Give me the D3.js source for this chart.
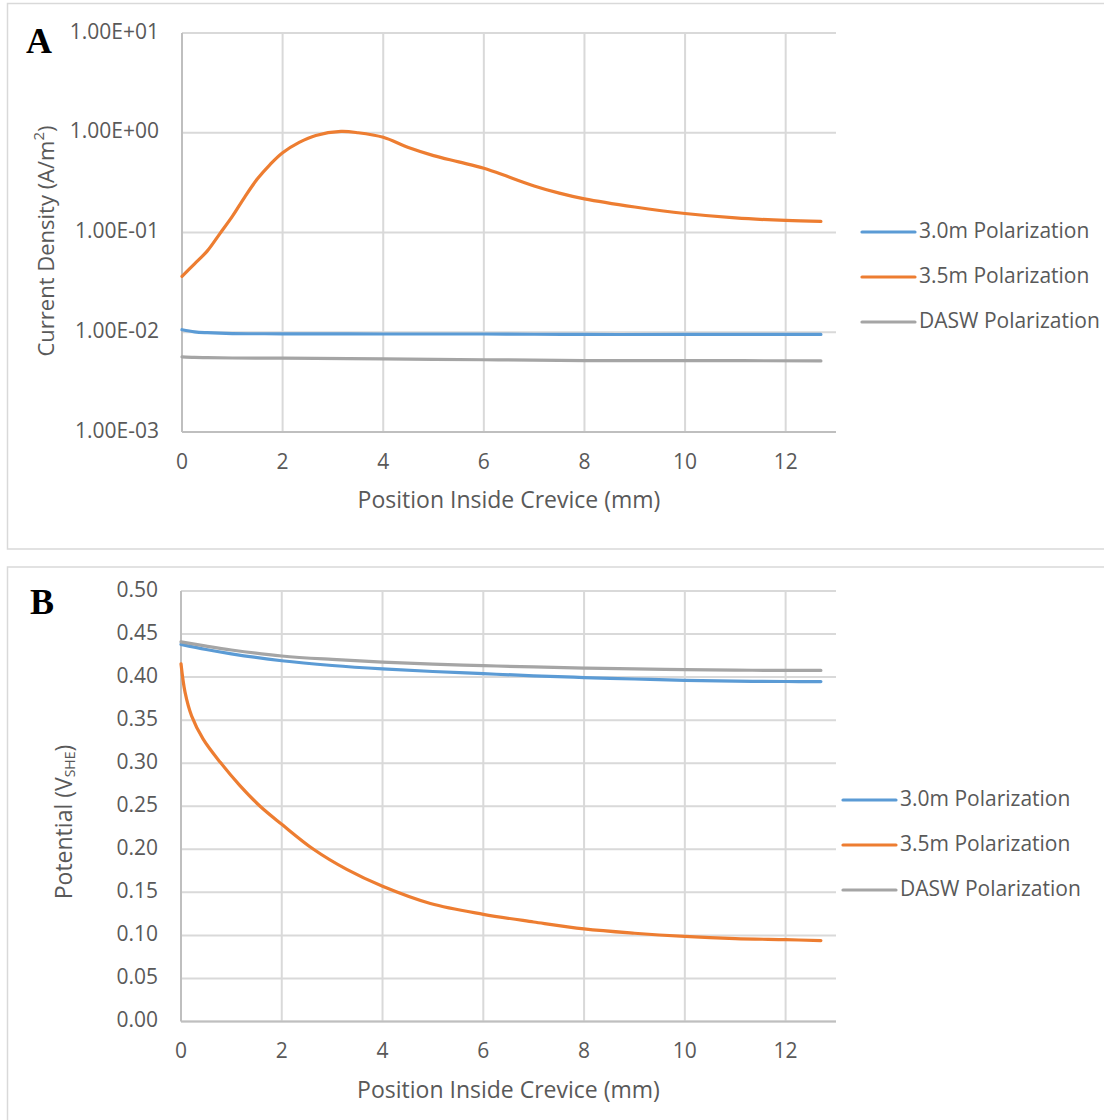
<!DOCTYPE html>
<html>
<head>
<meta charset="utf-8">
<script src="https://cdn.jsdelivr.net/npm/d3@7"></script>
<style>
  body { margin: 0; background: #fff; }
  text { font-family: "Open Sans", sans-serif; fill: #595959; }
</style>
</head>
<body>
<script>
// panel A : current density (log scale)
var xsA = [0, 0.25, 0.5, 0.75, 1, 1.25, 1.5, 1.75, 2, 2.33, 2.66, 3.16, 3.5, 4, 4.5, 5, 5.5, 6, 6.5, 7, 7.5, 8, 9, 10, 11, 12, 12.7];
var orangeA = [0.0363, 0.0486, 0.065, 0.097, 0.145, 0.228, 0.345, 0.48, 0.63, 0.80, 0.94, 1.03, 1.0, 0.90, 0.71, 0.59, 0.51, 0.44, 0.36, 0.293, 0.248, 0.217, 0.18, 0.155, 0.14, 0.132, 0.129];
var xsFlatA = [0, 0.25, 0.5, 1, 2, 4, 6, 8, 10, 12.7];
var blueA = [0.0106, 0.0101, 0.0099, 0.0097, 0.00965, 0.0096, 0.0096, 0.0095, 0.0095, 0.0095];
var grayA = [0.00567, 0.0056, 0.00557, 0.00552, 0.0055, 0.0054, 0.0053, 0.0052, 0.0052, 0.00516];
var yTicksA = [1e-3, 1e-2, 1e-1, 1e0, 1e1];

// panel B : potential
var xsB = [0, 0.08, 0.21, 0.44, 0.78, 1.17, 1.57, 2, 2.63, 3.29, 4, 4.95, 6, 7, 8, 9, 10, 11, 12, 12.7];
var orangeB = [0.4155, 0.3825, 0.355, 0.328, 0.301, 0.274, 0.250, 0.229, 0.200, 0.1766, 0.157, 0.137, 0.1245, 0.1156, 0.1075, 0.1025, 0.0988, 0.0963, 0.095, 0.094];
var xsFlatB = [0, 0.5, 1, 2, 3, 4, 5, 6, 7, 8, 9, 10, 11, 12, 12.7];
var blueB = [0.438, 0.432, 0.427, 0.419, 0.4135, 0.4095, 0.4065, 0.404, 0.4015, 0.3995, 0.3978, 0.3963, 0.3953, 0.3949, 0.3948];
var grayB = [0.441, 0.436, 0.4315, 0.4245, 0.4205, 0.4175, 0.415, 0.4133, 0.4118, 0.4105, 0.4095, 0.4087, 0.4081, 0.4078, 0.4077];
var yTicksB = [0, 0.05, 0.1, 0.15, 0.2, 0.25, 0.3, 0.35, 0.4, 0.45, 0.5];

var xTicks = [0, 2, 4, 6, 8, 10, 12];
var seriesNames = ["3.0m Polarization", "3.5m Polarization", "DASW Polarization"];
var colors = ["#5b9bd5", "#ed7d31", "#a5a5a5"];

var svg = d3.select("body").append("svg").attr("width", 1104).attr("height", 1120);

// outer frames
svg.append("rect").attr("x", 7.5).attr("y", 3.5).attr("width", 1110).attr("height", 545.5)
    .attr("fill", "none").attr("stroke", "#d9d9d9").attr("stroke-width", 1.5);
svg.append("rect").attr("x", 7.5).attr("y", 567).attr("width", 1110).attr("height", 600)
    .attr("fill", "none").attr("stroke", "#d9d9d9").attr("stroke-width", 1.5);

function sci(d) {
  var e = Math.round(Math.log10(d));
  var s = e < 0 ? "-" : "+";
  var a = Math.abs(e);
  return "1.00E" + s + (a < 10 ? "0" + a : a);
}

function panel(opt) {
  var x = d3.scaleLinear().domain([0, 13]).range([opt.left, opt.right]);
  var y = opt.y;
  var g = svg.append("g");

  // gridlines
  g.selectAll("line.hgrid").data(opt.yTicks).enter().append("line")
      .attr("x1", opt.left).attr("x2", opt.right)
      .attr("y1", function(d){ return y(d); }).attr("y2", function(d){ return y(d); })
      .attr("stroke", "#d9d9d9").attr("stroke-width", 2);
  g.selectAll("line.vgrid").data(xTicks.slice(1)).enter().append("line")
      .attr("x1", function(d){ return x(d); }).attr("x2", function(d){ return x(d); })
      .attr("y1", opt.top).attr("y2", opt.bottom)
      .attr("stroke", "#d9d9d9").attr("stroke-width", 2);

  // axis lines
  g.append("line").attr("x1", opt.left).attr("x2", opt.left).attr("y1", opt.top).attr("y2", opt.bottom)
      .attr("stroke", "#bfbfbf").attr("stroke-width", 2);
  g.append("line").attr("x1", opt.left).attr("x2", opt.right).attr("y1", opt.bottom).attr("y2", opt.bottom)
      .attr("stroke", "#bfbfbf").attr("stroke-width", 2);

  // y tick labels
  g.selectAll("text.yt").data(opt.yTicks).enter().append("text")
      .attr("x", opt.left - 23).attr("y", function(d){ return y(d); })
      .attr("text-anchor", "end").attr("dominant-baseline", "middle")
      .attr("font-size", 21).text(opt.fmt);
  // x tick labels
  g.selectAll("text.xt").data(xTicks).enter().append("text")
      .attr("x", function(d){ return x(d); }).attr("y", opt.bottom + 31)
      .attr("text-anchor", "middle").attr("dominant-baseline", "middle")
      .attr("font-size", 21).text(function(d){ return d; });

  // x title
  g.append("text").attr("x", (opt.left + opt.right) / 2).attr("y", opt.bottom + 70)
      .attr("text-anchor", "middle").attr("dominant-baseline", "middle")
      .attr("font-size", 23).text("Position Inside Crevice (mm)");

  // series
  opt.series.forEach(function(s, i) {
    var pts = s.xs.map(function(v, k){ return [v, s.ys[k]]; });
    var line = d3.line().x(function(d){ return x(d[0]); }).y(function(d){ return y(d[1]); })
        .curve(d3.curveCatmullRom.alpha(0.5));
    g.append("path").datum(pts).attr("d", line)
        .attr("fill", "none").attr("stroke", s.color).attr("stroke-width", 3.2)
        .attr("stroke-linecap", "round");
  });

  // legend
  var leg = g.selectAll("g.leg").data(seriesNames).enter().append("g")
      .attr("transform", function(d, i){ return "translate(" + opt.legX + "," + (opt.legY + i * 45) + ")"; });
  leg.append("line").attr("x1", 0).attr("x2", 53).attr("y1", 0).attr("y2", 0)
      .attr("stroke", function(d, i){ return colors[i]; }).attr("stroke-width", 3.2)
      .attr("stroke-linecap", "round");
  leg.append("text").attr("x", 57).attr("y", 0).attr("dominant-baseline", "middle")
      .attr("font-size", 21).text(function(d){ return d; });

  // panel letter
  g.append("text").attr("x", opt.letterX).attr("y", opt.letterY)
      .style("font-family", "'Liberation Serif', 'Times New Roman', serif")
      .style("fill", "#000").attr("font-weight", "bold").attr("font-size", 36)
      .text(opt.letter);
  return g;
}

var yA = d3.scaleLog().domain([1e-3, 1e1]).range([432, 33]);
var gA = panel({
  left: 182, right: 836, top: 33, bottom: 432, y: yA, yTicks: yTicksA, fmt: sci,
  series: [
    { xs: xsFlatA, ys: blueA, color: colors[0] },
    { xs: xsA, ys: orangeA, color: colors[1] },
    { xs: xsFlatA, ys: grayA, color: colors[2] }
  ],
  legX: 862, legY: 232, letter: "A", letterX: 26, letterY: 53
});
var tA = gA.append("text").attr("transform", "translate(48,241) rotate(-90)")
    .attr("text-anchor", "middle").attr("dominant-baseline", "middle").attr("font-size", 22);
tA.append("tspan").text("Current Density (A/m");
tA.append("tspan").attr("font-size", 15).attr("dy", -8).text("2");
tA.append("tspan").attr("dy", 8).text(")");

var yB = d3.scaleLinear().domain([0, 0.5]).range([1021.5, 591]);
var gB = panel({
  left: 181, right: 836, top: 591, bottom: 1021.5, y: yB, yTicks: yTicksB,
  fmt: function(d){ return d.toFixed(2); },
  series: [
    { xs: xsFlatB, ys: blueB, color: colors[0] },
    { xs: xsB, ys: orangeB, color: colors[1] },
    { xs: xsFlatB, ys: grayB, color: colors[2] }
  ],
  legX: 843, legY: 800, letter: "B", letterX: 30, letterY: 614
});
var tB = gB.append("text").attr("transform", "translate(66,822) rotate(-90)")
    .attr("text-anchor", "middle").attr("dominant-baseline", "middle").attr("font-size", 23);
tB.append("tspan").text("Potential (V");
tB.append("tspan").attr("font-size", 14).attr("dy", 5).text("SHE");
tB.append("tspan").attr("dy", -5).text(")");
</script>
</body>
</html>
